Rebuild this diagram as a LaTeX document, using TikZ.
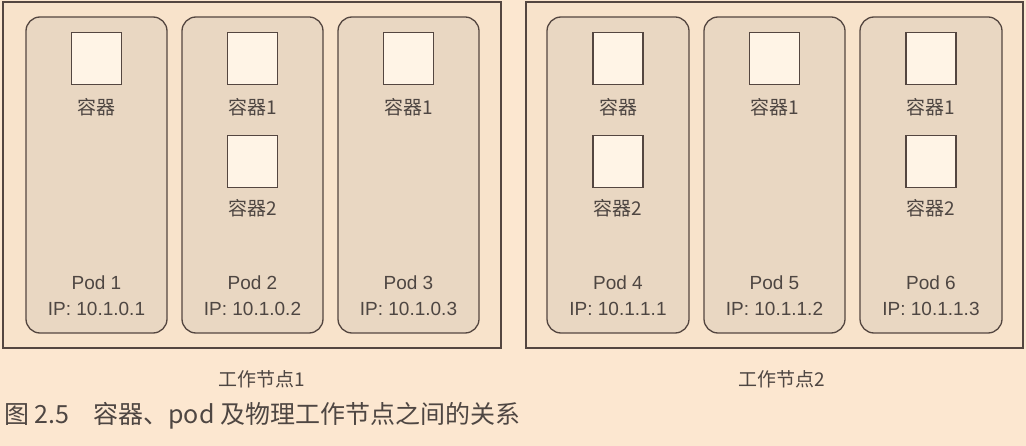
\documentclass[tikz,border=0pt]{standalone}
\usepackage{fontspec}
\setmainfont{Liberation Sans}
\newfontfamily\cjk{Noto Sans CJK SC}
\definecolor{pagebg}{HTML}{FCE7D0}
\definecolor{nodefill}{HTML}{F8E3CB}
\definecolor{podfill}{HTML}{E9D7C2}
\definecolor{boxfill}{HTML}{FFF4E6}
\definecolor{linec}{HTML}{544640}
\definecolor{textc}{HTML}{4E4642}
\begin{document}
\begin{tikzpicture}[x=1pt,y=-1pt,
  workernode/.style={draw=linec, line width=1.3pt, fill=nodefill},
  podbox/.style={draw=linec, line width=1.3pt, fill=podfill, rounded corners=14pt},
  ctr/.style={draw=linec, line width=1.2pt, fill=boxfill, minimum width=50pt, minimum height=52pt, inner sep=0pt, anchor=north},
  lbl/.style={text=textc, font=\cjk\fontsize{19}{22}\selectfont, inner sep=0pt},
  podtxt/.style={text=textc, font=\fontsize{19}{22}\selectfont, inner sep=0pt, align=center},
  captiontxt/.style={text=textc, font=\cjk\fontsize{25}{30}\selectfont, inner sep=0pt, anchor=west}]
\fill[pagebg] (0,0) rectangle (1026,446);
\useasboundingbox (0,0) rectangle (1026,446);
% worker nodes
\draw[workernode] (3,2) rectangle (501,348);
\draw[workernode] (526,2) rectangle (1023,348);
% pods
\foreach \i/\xa/\xb in {1/26/167,2/182/323,3/338/479,4/547/689,5/704/845,6/860/1002}{
  \draw[podbox] (\xa,17) rectangle (\xb,333);
}
% pod 1
\node[ctr] (c1a) at (96.5,32) {};
\node[lbl] (l1a) at (96.5,107) {容器};
\node[podtxt] (p1) at (96.5,296) {Pod 1\\[4pt]IP: 10.1.0.1};
% pod 2
\node[ctr] (c2a) at (252.5,32) {};
\node[lbl] (l2a) at (252.5,107) {容器1};
\node[ctr] (c2b) at (252.5,135) {};
\node[lbl] (l2b) at (252.5,208) {容器2};
\node[podtxt] (p2) at (252.5,296) {Pod 2\\[4pt]IP: 10.1.0.2};
% pod 3
\node[ctr] (c3a) at (408.5,32) {};
\node[lbl] (l3a) at (408.5,107) {容器1};
\node[podtxt] (p3) at (408.5,296) {Pod 3\\[4pt]IP: 10.1.0.3};
% pod 4
\node[ctr] (c4a) at (618,32) {};
\node[lbl] (l4a) at (618,107) {容器};
\node[ctr] (c4b) at (618,135) {};
\node[lbl] (l4b) at (618,208) {容器2};
\node[podtxt] (p4) at (618,296) {Pod 4\\[4pt]IP: 10.1.1.1};
% pod 5
\node[ctr] (c5a) at (774.5,32) {};
\node[lbl] (l5a) at (774.5,107) {容器1};
\node[podtxt] (p5) at (774.5,296) {Pod 5\\[4pt]IP: 10.1.1.2};
% pod 6
\node[ctr] (c6a) at (931,32) {};
\node[lbl] (l6a) at (931,107) {容器1};
\node[ctr] (c6b) at (931,135) {};
\node[lbl] (l6b) at (931,208) {容器2};
\node[podtxt] (p6) at (931,296) {Pod 6\\[4pt]IP: 10.1.1.3};
% worker labels
\node[lbl] (w1) at (262,379) {工作节点1};
\node[lbl] (w2) at (782,379) {工作节点2};
% caption
\node[captiontxt] (caption) at (4,416) {图 2.5\hspace{24pt}容器、pod 及物理工作节点之间的关系};
\end{tikzpicture}
\end{document}
